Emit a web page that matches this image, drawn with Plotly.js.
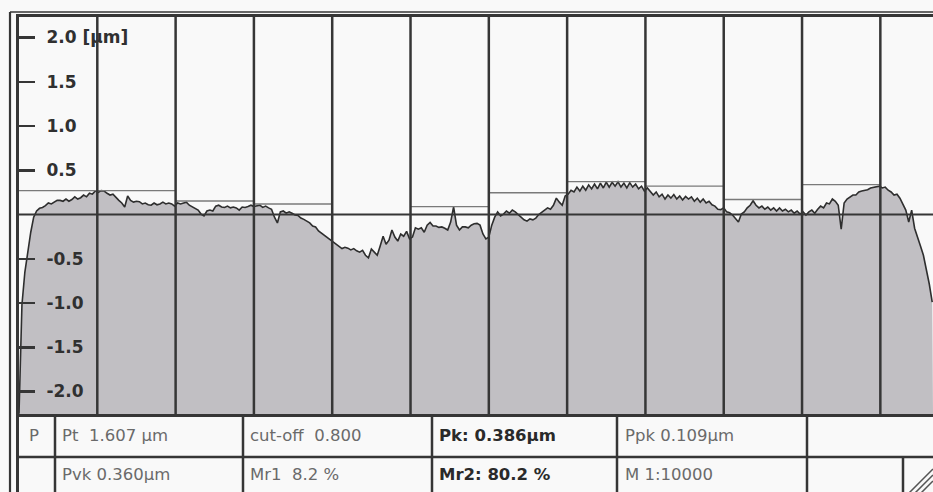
<!DOCTYPE html>
<html>
<head>
<meta charset="utf-8">
<script src="https://cdn.plot.ly/plotly-3.0.1.min.js"></script>
<style>
  html, body { margin: 0; padding: 0; background: #f9f9f9; }
  #chart { width: 933px; height: 492px; }
</style>
</head>
<body>
<div id="chart"></div>
<script>
// ---- Data ----
const SAMPLE_START_MM = 0;
const SAMPLE_STEP_MM = 0.015;
const GRID_STEP_MM = 0.4;
const X_RANGE = [0, 4.669];
const Y_RANGE = [-2.254, 2.232];

// profile heights in µm, one per sample
const PROFILE_UM = [
  -2.25, -1.02, -0.65, -0.42, -0.20, -0.03, 0.04, 0.07, 0.08, 0.10,
  0.13, 0.12, 0.14, 0.16, 0.16, 0.15, 0.175, 0.15, 0.17, 0.20,
  0.175, 0.19, 0.22, 0.20, 0.24, 0.23, 0.265, 0.25, 0.27, 0.265,
  0.24, 0.22, 0.23, 0.19, 0.16, 0.13, 0.085, 0.21, 0.16, 0.14,
  0.15, 0.145, 0.12, 0.13, 0.11, 0.105, 0.13, 0.11, 0.12, 0.14,
  0.12, 0.13, 0.12, 0.095, 0.13, 0.12, 0.13, 0.14, 0.105, 0.085,
  0.075, 0.05, 0.005, -0.015, 0.04, 0.05, 0.04, 0.095, 0.105, 0.085,
  0.08, 0.095, 0.075, 0.085, 0.075, 0.05, 0.085, 0.08, 0.09, 0.105,
  0.09, 0.095, 0.105, 0.08, 0.095, 0.075, 0.06, -0.03, -0.095, 0.03,
  0.04, 0.015, 0.03, 0.015, -0.005, -0.01, -0.04, -0.055, -0.075, -0.095,
  -0.13, -0.14, -0.185, -0.21, -0.23, -0.255, -0.28, -0.31, -0.335, -0.355,
  -0.385, -0.37, -0.38, -0.40, -0.385, -0.41, -0.425, -0.405, -0.46, -0.49,
  -0.39, -0.425, -0.46, -0.355, -0.245, -0.335, -0.29, -0.175, -0.255, -0.30,
  -0.22, -0.245, -0.19, -0.275, -0.255, -0.15, -0.165, -0.15, -0.20, -0.12,
  -0.09, -0.13, -0.13, -0.145, -0.14, -0.155, -0.175, -0.085, 0.085, -0.12,
  -0.175, -0.14, -0.14, -0.15, -0.12, -0.105, -0.10, -0.12, -0.22, -0.275,
  -0.255, -0.12, -0.03, 0.03, -0.015, 0.005, 0.04, 0.015, 0.05, 0.03,
  0.0, -0.04, -0.06, -0.075, -0.05, -0.06, -0.04, 0.0, 0.03, 0.05,
  0.075, 0.06, 0.105, 0.185, 0.14, 0.105, 0.21, 0.23, 0.275, 0.255,
  0.31, 0.265, 0.32, 0.275, 0.335, 0.29, 0.345, 0.29, 0.355, 0.30,
  0.365, 0.31, 0.365, 0.32, 0.37, 0.31, 0.355, 0.30, 0.36, 0.31,
  0.345, 0.29, 0.32, 0.265, 0.30, 0.255, 0.22, 0.255, 0.20, 0.23,
  0.175, 0.22, 0.185, 0.225, 0.175, 0.21, 0.165, 0.205, 0.175, 0.20,
  0.15, 0.185, 0.14, 0.175, 0.13, 0.15, 0.11, 0.095, 0.06, 0.055,
  0.075, 0.03, 0.02, -0.005, -0.04, -0.085, 0.005, 0.03, 0.075, 0.105,
  0.155, 0.105, 0.075, 0.095, 0.06, 0.085, 0.05, 0.075, 0.04, 0.075,
  0.04, 0.06, 0.03, 0.05, 0.015, 0.04, 0.005, 0.03, -0.005, 0.03,
  0.05, 0.015, 0.06, 0.095, 0.075, 0.13, 0.12, 0.175, 0.15, 0.105,
  -0.165, 0.13, 0.175, 0.20, 0.22, 0.22, 0.255, 0.265, 0.275, 0.28,
  0.30, 0.305, 0.315, 0.32, 0.30, 0.31, 0.275, 0.255, 0.22, 0.23,
  0.185, 0.12, 0.05, -0.085, 0.05, -0.155, -0.245, -0.355, -0.46, -0.605,
  -0.785, -0.99
];

// highest peak in each sampling section (µm), null = none drawn
const SEGMENT_PEAKS_UM = [0.269, 0.269, 0.153, 0.119, null, 0.09, 0.246, 0.371, 0.322, 0.17, 0.339];

const Y_TICK_VALUES = [2, 1.5, 1, 0.5, -0.5, -1, -1.5, -2];
const Y_TICK_LABELS = ['2.0 [µm]', '1.5', '1.0', '0.5', '-0.5', '-1.0', '-1.5', '-2.0'];

const TABLE_ROW1 = ['P', 'Pt  1.607 µm', 'cut-off  0.800', 'Pk: 0.386µm', 'Ppk 0.109µm'];
const TABLE_ROW2 = ['', 'Pvk 0.360µm', 'Mr1  8.2 %', 'Mr2: 80.2 %', 'M 1:10000'];
const TABLE_BOLD = [false, false, false, true, false];

// ---- Layout geometry (pixels) ----
const W = 933, H = 492;
const PL = 19, PR = 933, PT = 17, PB = 414;
const px = v => (v - PL) / (PR - PL);
const py = v => (PB - v) / (PB - PT);

const LINE = '#363636';
const NB = '\u00a0\u00a0';

// segment peak lines
const segX = [], segY = [];
SEGMENT_PEAKS_UM.forEach((p, i) => {
  if (p === null) return;
  segX.push(i * GRID_STEP_MM, (i + 1) * GRID_STEP_MM, null);
  segY.push(p, p, null);
});

const traces = [
  { // baseline for the fill (bottom of the axis range)
    x: [X_RANGE[0], X_RANGE[1]], y: [Y_RANGE[0], Y_RANGE[0]],
    mode: 'lines', line: { width: 0, color: 'rgba(0,0,0,0)' },
    hoverinfo: 'skip', showlegend: false
  },
  {
    y: PROFILE_UM, x0: SAMPLE_START_MM, dx: SAMPLE_STEP_MM,
    mode: 'lines', fill: 'tonexty', fillcolor: '#c1bfc3',
    line: { color: '#2e2e2e', width: 1.6 },
    showlegend: false
  },
  {
    x: segX, y: segY, mode: 'lines',
    line: { color: '#7a7a7a', width: 1.3 },
    connectgaps: false, showlegend: false
  }
];

const shapes = [];
// vertical section grid and zero line, drawn above the filled profile
for (let g = GRID_STEP_MM; g < X_RANGE[1]; g += GRID_STEP_MM) {
  shapes.push({ type: 'line', xref: 'x', yref: 'paper', x0: g, x1: g, y0: 0, y1: 1,
                line: { color: LINE, width: 2.5 }, layer: 'above' });
}
shapes.push({ type: 'line', xref: 'paper', yref: 'y', x0: 0, x1: 1, y0: 0, y1: 0,
              line: { color: LINE, width: 2 }, layer: 'above' });

const addLine = (x0, y0, x1, y1, w, c) => shapes.push({
  type: 'line', xref: 'paper', yref: 'paper',
  x0: px(x0), y0: py(y0), x1: px(x1), y1: py(y1),
  line: { color: c || LINE, width: w || 2.5 }, layer: 'above'
});
// outer frame
addLine(10, 12, 10, 500, 2.2);
addLine(10, 12, 940, 12, 1.6);
// table
addLine(17.5, 414, 17.5, 500, 3);
[55, 243, 432, 617, 807].forEach(c => addLine(c, 414, c, 500, 2.5));
addLine(903, 457, 903, 500, 2.5);
addLine(17.5, 457, 940, 457, 2.5);
// hatch in the last cell
[[908, 494, 933, 469], [914, 494, 933, 475], [920, 494, 933, 481]].forEach(h => addLine(h[0], h[1], h[2], h[3], 1.5, '#555'));

const cellX = [27, 60, 248, 437, 623];
const annotations = [];
[[TABLE_ROW1, 435], [TABLE_ROW2, 475]].forEach(([row, yy]) => {
  row.forEach((t, i) => {
    if (!t) return;
    annotations.push({
      xref: 'paper', yref: 'paper', x: px(cellX[i]), y: py(yy),
      xanchor: 'left', yanchor: 'middle', showarrow: false, text: t,
      font: { family: 'DejaVu Sans', size: 16.5,
              color: TABLE_BOLD[i] ? '#2a2a2a' : '#6a6a6a',
              weight: TABLE_BOLD[i] ? 'bold' : 'normal' }
    });
  });
});

const layout = {
  width: W, height: H,
  margin: { l: PL, r: W - PR, t: PT, b: H - PB, pad: 0 },
  paper_bgcolor: '#f9f9f9', plot_bgcolor: '#f9f9f9',
  showlegend: false,
  xaxis: {
    range: X_RANGE, showgrid: false,
    showticklabels: false, ticks: '', zeroline: false,
    showline: true, mirror: true, linecolor: LINE, linewidth: 3
  },
  yaxis: {
    range: Y_RANGE, tickmode: 'array',
    tickvals: Y_TICK_VALUES, ticktext: Y_TICK_LABELS.map(t => NB + t),
    ticks: 'inside', ticklen: 16, tickwidth: 2.5, tickcolor: LINE,
    ticklabelposition: 'inside',
    tickfont: { family: 'DejaVu Sans', size: 17, color: '#303030', weight: 'bold' },
    showgrid: false, zeroline: false,
    showline: true, linecolor: LINE, linewidth: 3
  },
  shapes: shapes,
  annotations: annotations
};

Plotly.newPlot('chart', traces, layout, { displayModeBar: false, staticPlot: true });
</script>
</body>
</html>
